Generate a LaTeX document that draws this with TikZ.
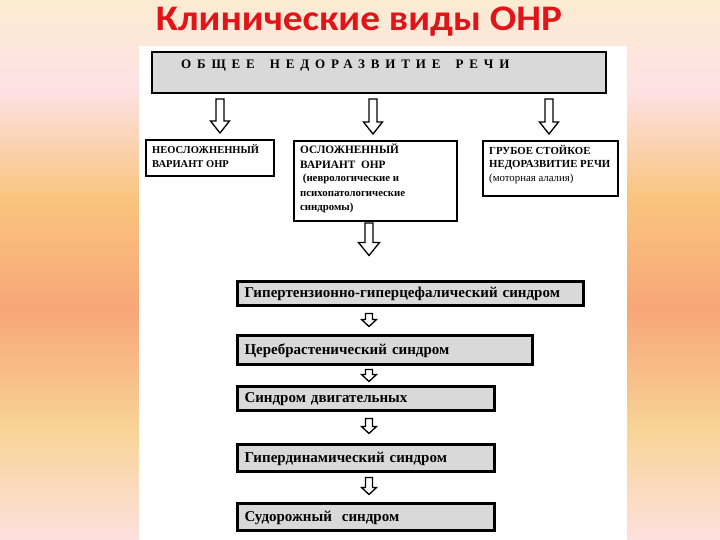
\documentclass[tikz,border=0pt]{standalone}
\usepackage{fontspec}
\setmainfont{Liberation Serif}
\newfontfamily\titlefont{Carlito}
\usetikzlibrary{calc}

\definecolor{titlered}{RGB}{225,20,25}
\definecolor{boxgray}{RGB}{217,217,217}
\definecolor{bgA}{RGB}{253,224,222}
\definecolor{bgB}{RGB}{248,212,150}
\definecolor{bgC}{RGB}{248,166,120}
\definecolor{bgD}{RGB}{249,196,125}
\definecolor{bgE}{RGB}{253,225,228}
\definecolor{bgF}{RGB}{252,236,210}
\pgfdeclareverticalshading{pagebg}{100bp}{color(0bp)=(bgA); color(25bp)=(bgA);
  color(35.2bp)=(bgB); color(46.3bp)=(bgC); color(56.5bp)=(bgD);
  color(66.7bp)=(bgE); color(75bp)=(bgF); color(100bp)=(bgF)}

\newcommand\smallsz{\fontsize{10.8}{13.5}\selectfont}

\tikzset{
  plainbox/.style={draw, line width=2pt, fill=white, anchor=north west, inner sep=0pt},
  graybox/.style={draw, line width=2pt, fill=boxgray, anchor=north west, inner sep=0pt},
  syndbox/.style={draw, line width=3pt, fill=boxgray, anchor=west, align=left,
    inner xsep=7pt, inner ysep=0pt, text depth=1pt, font=\bfseries\fontsize{15}{17}\selectfont},
  boxtext/.style={anchor=north west, align=left, inner sep=0pt, font=\bfseries\fontsize{10}{14}\selectfont},
  blockarr/.style n args={3}{draw, line width=1.3pt, fill=white, line join=miter, to path={
    let \p1=(\tikztostart), \p2=(\tikztotarget) in
    (\x1-#1,\y1) -- (\x1-#1,\y2+#3) -- (\x1-#2,\y2+#3) -- (\x1,\y2)
    -- (\x1+#2,\y2+#3) -- (\x1+#1,\y2+#3) -- (\x1+#1,\y1) -- cycle}},
  bigarr/.style={blockarr={4pt}{9.5pt}{12pt}},
  smallarr/.style={blockarr={3.5pt}{7.5pt}{7pt}}
}

\begin{document}
\begin{tikzpicture}[x=1pt, y=-1pt]
  \useasboundingbox (0,0) rectangle (720,540);
  \shade[shading=pagebg] (0,0) rectangle (720,540);
  \fill[white] (139,46) rectangle (627,540);

  \node[anchor=base, inner sep=0pt, font=\titlefont\bfseries\fontsize{36}{40}\selectfont, text=titlered]
    (title) at (359,31) {\scalebox{1.09}[1]{Клинические виды ОНР}};

  % upper level
  \node[graybox, minimum width=454pt, minimum height=41pt] (top) at (151,51) {};
  \node[anchor=west, inner sep=0pt, font=\bfseries\fontsize{13}{15}\selectfont\addfontfeature{LetterSpace=45}]
    (toptext) at ([shift={(30pt,-14.5pt)}]top.north west) {ОБЩЕЕ\hspace{15pt}НЕДОРАЗВИТИЕ\hspace{15pt}РЕЧИ};

  \node[plainbox, minimum width=128pt, minimum height=36pt] (b1) at (145,139) {};
  \node[boxtext, font=\bfseries\fontsize{10.5}{14}\selectfont] (b1text) at ([shift={(7pt,-5pt)}]b1.north west)
    {НЕОСЛОЖНЕННЫЙ\\ВАРИАНТ ОНР};

  \node[plainbox, minimum width=163pt, minimum height=80pt] (b2) at (293,140) {};
  \node[boxtext, font=\bfseries\fontsize{11.3}{14.5}\selectfont] (b2text) at ([shift={(7pt,-4pt)}]b2.north west)
    {ОСЛОЖНЕННЫЙ\\ВАРИАНТ~ ОНР\\[-1pt]
     \smallsz\ (неврологические и\\\smallsz психопатологические\\\smallsz синдромы)};

  \node[plainbox, minimum width=135pt, minimum height=55pt] (b3) at (482,140) {};
  \node[boxtext, font=\bfseries\fontsize{10.8}{13.5}\selectfont] (b3text) at ([shift={(7pt,-5pt)}]b3.north west)
    {ГРУБОЕ СТОЙКОЕ\\НЕДОРАЗВИТИЕ РЕЧИ\\\mdseries (моторная алалия)};

  % syndromes
  \node[syndbox, text width=332pt, minimum height=24pt] (s1) at (236,293) {Гипертензионно-гиперцефалический синдром};
  \node[syndbox, text width=281pt, minimum height=29pt] (s2) at (236,349.5) {Церебрастенический синдром};
  \node[syndbox, text width=243pt, minimum height=24pt] (s3) at (236,398) {Синдром двигательных};
  \node[syndbox, text width=243pt, minimum height=27pt] (s4) at (236,457.5) {Гипердинамический синдром};
  \node[syndbox, text width=243pt, minimum height=27pt] (s5) at (236,516.5) {Судорожный~ синдром};

  \coordinate (a1) at (220,0);
  \coordinate (a2) at (373,0);
  \coordinate (a3) at (549,0);
  \coordinate (a4) at (369,0);

  \draw[bigarr] ([yshift=-5pt]top.south -| a1) to ([yshift=6pt]b1.north -| a1);
  \draw[bigarr] ([yshift=-5pt]top.south -| a2) to ([yshift=6pt]b2.north -| a2);
  \draw[bigarr] ([yshift=-5pt]top.south -| a3) to ([yshift=6pt]b3.north -| a3);
  \draw[blockarr={4pt}{10.5pt}{13pt}] ([yshift=-1pt]b2.south -| a4) to ([yshift=24pt]s1.north -| a4);
  \draw[smallarr] ([yshift=-7pt]s1.south -| a4) to ([yshift=7pt]s2.north -| a4);
  \draw[smallarr] ([yshift=-4pt]s2.south -| a4) to ([yshift=3pt]s3.north -| a4);
  \draw[smallarr] ([yshift=-7pt]s3.south -| a4) to ([yshift=9pt]s4.north -| a4);
  \draw[smallarr] ([yshift=-5pt]s4.south -| a4) to ([yshift=7pt]s5.north -| a4);
\end{tikzpicture}
\end{document}
